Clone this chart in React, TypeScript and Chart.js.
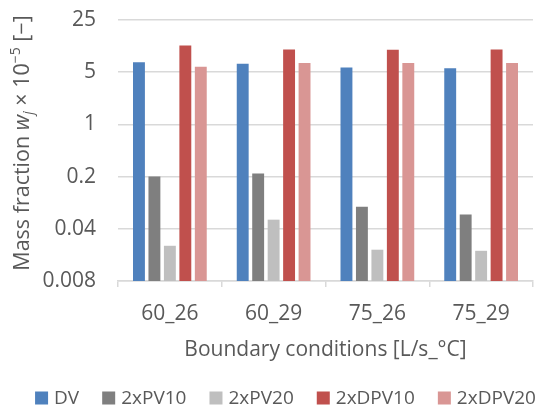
import React, { useEffect, useRef } from "react";
import { Chart, registerables } from "chart.js";

Chart.register(...registerables);

const categories = ["60_26", "60_29", "75_26", "75_29"];
const seriesNames = ["DV", "2xPV10", "2xPV20", "2xDPV10", "2xDPV20"];
const dvValues = [6.8, 6.5, 5.8, 5.65];
const pv10Values = [0.2, 0.22, 0.079, 0.062];
const pv20Values = [0.0237, 0.053, 0.021, 0.0203];
const dpv10Values = [11.4, 10.1, 10.0, 10.1];
const dpv20Values = [5.9, 6.65, 6.65, 6.65];
const yTicks = [0.008, 0.04, 0.2, 1, 5, 25];
const colors = ["#4f81bd", "#7f7f7f", "#bfbfbf", "#c0504d", "#d99694"];

const FONT = "'Open Sans', sans-serif";
const TEXT = "#595959";
const GRID = "#d9d9d9";

const yTitlePlugin = {
  id: "yTitle",
  afterDraw(chart: any) {
    const ctx = chart.ctx;
    const parts = [
      { t: "Mass fraction ", size: 21.5, style: "", dy: 0 },
      { t: "w", size: 21.5, style: "italic ", dy: 0 },
      { t: "j", size: 14, style: "italic ", dy: 4 },
      { t: " \u00d7 10", size: 21.5, style: "", dy: 0 },
      { t: "\u22125", size: 14, style: "", dy: -9 },
      { t: " [\u2212]", size: 21.5, style: "", dy: 0 },
    ];
    ctx.save();
    let total = 0;
    const widths = parts.map((p) => {
      ctx.font = `${p.style}${p.size}px ${FONT}`;
      const w = ctx.measureText(p.t).width;
      total += w;
      return w;
    });
    ctx.translate(28.5, 143);
    ctx.rotate(-Math.PI / 2);
    ctx.fillStyle = TEXT;
    ctx.textBaseline = "alphabetic";
    ctx.textAlign = "left";
    let x = -total / 2;
    parts.forEach((p, i) => {
      ctx.font = `${p.style}${p.size}px ${FONT}`;
      ctx.fillText(p.t, x, p.dy);
      x += widths[i];
    });
    ctx.restore();
  },
};

const legendPlugin = {
  id: "customLegend",
  afterDraw(chart: any) {
    const ctx = chart.ctx;
    const box = 13;
    const gapText = 6;
    const gapItem = 23;
    const cy = 398;
    ctx.save();
    ctx.font = `19px ${FONT}`;
    const widths = seriesNames.map((n) => ctx.measureText(n).width);
    const total =
      widths.reduce((a, b) => a + b, 0) + seriesNames.length * (box + gapText) + (seriesNames.length - 1) * gapItem;
    let x = 285.5 - total / 2;
    ctx.textBaseline = "middle";
    ctx.textAlign = "left";
    seriesNames.forEach((n, i) => {
      ctx.fillStyle = colors[i];
      ctx.fillRect(x, cy - box / 2, box, box);
      ctx.fillStyle = TEXT;
      ctx.fillText(n, x + box + gapText, cy + 1);
      x += box + gapText + widths[i] + gapItem;
    });
    ctx.restore();
  },
};

export default function App() {
  const ref = useRef<HTMLCanvasElement | null>(null);
  useEffect(() => {
    if (!ref.current) return;
    const seriesValues = [dvValues, pv10Values, pv20Values, dpv10Values, dpv20Values];
    const chart = new Chart(ref.current, {
      type: "bar",
      data: {
        labels: categories,
        datasets: seriesNames.map((name, i) => ({
          label: name,
          data: seriesValues[i],
          backgroundColor: colors[i],
          borderWidth: 0,
          categoryPercentage: 0.745,
          barPercentage: 0.77,
        })),
      },
      options: {
        animation: false,
        responsive: false,
        maintainAspectRatio: false,
        layout: { padding: { left: 0, right: 6, top: 20, bottom: 0 } },
        plugins: {
          tooltip: { enabled: false },
          legend: { display: false },
        },
        scales: {
          x: {
            afterFit: (scale: any) => {
              scale.height = 127;
            },
            grid: {
              offset: true,
              drawOnChartArea: false,
              drawTicks: true,
              tickLength: 6,
              color: GRID,
              lineWidth: 1.5,
            },
            border: { display: true, color: GRID, width: 1.5 },
            ticks: { color: TEXT, padding: 14, font: { family: FONT, size: 21 } },
            title: {
              display: true,
              text: "Boundary conditions [L/s_\u00b0C]",
              color: TEXT,
              font: { family: FONT, size: 21 },
              padding: { top: 10, bottom: 45 },
            },
          },
          y: {
            type: "logarithmic",
            bounds: "data",
            min: 0.008,
            max: 25,
            afterFit: (scale: any) => {
              scale.width = 118;
              scale.paddingTop = 0;
              scale.paddingBottom = 0;
            },
            afterBuildTicks: (scale: any) => {
              scale.ticks = yTicks.map((v) => ({ value: v }));
            },
            grid: { color: GRID, drawTicks: false, lineWidth: 1.5 },
            border: { display: false },
            ticks: {
              color: TEXT,
              padding: 22,
              font: { family: FONT, size: 21 },
              callback: (v: any) => String(v),
            },
          },
        },
      },
      plugins: [yTitlePlugin, legendPlugin],
    });
    return () => chart.destroy();
  }, []);
  return (
    <div style={{ position: "absolute", left: 0, top: 0, width: 539, height: 408, background: "#fff" }}>
      <canvas ref={ref} width={539} height={408} />
    </div>
  );
}
